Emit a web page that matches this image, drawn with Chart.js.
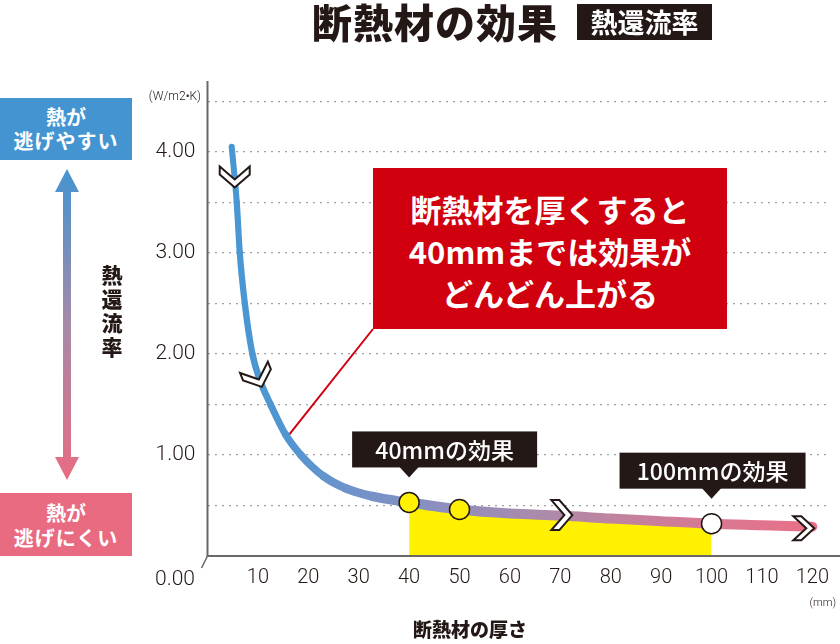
<!DOCTYPE html>
<html><head><meta charset="utf-8">
<script src="https://cdn.jsdelivr.net/npm/chart.js@4.4.1/dist/chart.umd.min.js"></script>
<style>
html,body{margin:0;padding:0;background:#fff;}
#wrap{position:relative;width:840px;height:644px;overflow:hidden;font-family:'Noto Sans CJK JP',sans-serif;color:#231815;}
canvas{position:absolute;left:0;top:0;}
.t{position:absolute;white-space:nowrap;text-align:center;}
</style></head><body>
<div id="wrap">
<canvas id="c" width="840" height="644"></canvas>
<div class="t" style="left:300px;top:1px;width:270px;height:40px;line-height:40px;font-size:40px;font-weight:900;letter-spacing:1px;">断熱材の効果</div>
<div class="t" style="left:577px;top:4px;width:135px;height:36px;line-height:36px;font-size:27px;font-weight:700;background:#231815;color:#fff;">熱還流率</div>
<div class="t" style="left:0;top:98px;width:132px;height:62px;background:#4494d1;color:#fff;font-weight:700;font-size:20px;">
  <div style="position:absolute;left:0;width:132px;top:7px;height:24px;line-height:24px;">熱が</div>
  <div style="position:absolute;left:0;width:132px;top:31px;height:24px;line-height:24px;letter-spacing:1px;">逃げやすい</div>
</div>
<div class="t" style="left:99px;top:262px;width:26px;line-height:24px;font-size:21px;font-weight:900;">熱<br>還<br>流<br>率</div>
<div class="t" style="left:0;top:493px;width:132px;height:63px;background:#e96b82;color:#fff;font-weight:700;font-size:20px;">
  <div style="position:absolute;left:0;width:132px;top:8px;height:24px;line-height:24px;">熱が</div>
  <div style="position:absolute;left:0;width:132px;top:33px;height:24px;line-height:24px;letter-spacing:1px;">逃げにくい</div>
</div>
<div class="t" style="left:373px;top:168px;width:354px;height:161px;background:#d0000f;color:#fff;font-weight:700;font-size:31px;">
  <div style="position:absolute;left:0;width:354px;top:20px;height:42px;line-height:42px;">断熱材を厚くすると</div>
  <div style="position:absolute;left:0;width:354px;top:62px;height:42px;line-height:42px;">40mmまでは効果が</div>
  <div style="position:absolute;left:0;width:354px;top:104px;height:42px;line-height:42px;">どんどん上がる</div>
</div>
<div class="t" style="left:370px;top:616px;width:200px;height:26px;line-height:26px;font-size:19px;font-weight:900;">断熱材の厚さ</div>
</div>
<script>
// ---- data ----
const thicknessMM = [4.8, 5.8, 6.4, 7.4, 8.9, 10.4, 12.5, 15.5, 18.5, 23.0, 27.4, 32.7, 40, 50, 60, 70, 80, 90, 100, 110, 120];
const uValue      = [4.05, 3.50, 3.00, 2.50, 2.00, 1.74, 1.50, 1.20, 1.00, 0.79, 0.67, 0.59, 0.53, 0.46, 0.42, 0.40, 0.37, 0.345, 0.32, 0.305, 0.29];
const fillRangeMM = [40, 100];
const markerMM    = [40, 50, 100];
const markerU     = [0.53, 0.46, 0.32];
const markerFill  = ['#fff100', '#fff100', '#ffffff'];
const chevronMM   = [5.4, 10.0, 70.3, 118.3];
const chevronU    = [3.75, 1.77, 0.405, 0.275];
const chevronDir  = [90, 68, 0, 0];
const calloutMM   = [40, 100];
const calloutText = ['40mmの効果', '100mmの効果'];
const redTarget   = [16.2, 1.2];
const xTickValues = [10, 20, 30, 40, 50, 60, 70, 80, 90, 100, 110, 120];
const yGridValues = [0, 0.5, 1, 1.5, 2, 2.5, 3, 3.5, 4, 4.5];
const yLabelValues = [1, 2, 3, 4];
const yUnit = '(W/m2•K)';
const xUnit = '(mm)';
const originLabel = '0.00';

const INK = '#231815';
let gradCache = null;
function lineGradient(chart) {
  const xs = chart.scales.x;
  if (gradCache && gradCache.w === chart.width) return gradCache.g;
  const g = chart.ctx.createLinearGradient(xs.getPixelForValue(4), 0, xs.getPixelForValue(120), 0);
  g.addColorStop(0, '#4797d3');
  g.addColorStop(0.1, '#5196d1');
  g.addColorStop(0.2, '#6c93cb');
  g.addColorStop(0.32, '#8590c3');
  g.addColorStop(0.55, '#ae8aa9');
  g.addColorStop(0.8, '#d57a94');
  g.addColorStop(1, '#ea6f88');
  gradCache = {w: chart.width, g};
  return g;
}

function chevron(ctx, x, y, ang, w, d, t) {
  ctx.save();
  ctx.translate(x, y);
  ctx.rotate(ang * Math.PI / 180);
  ctx.beginPath();
  ctx.moveTo(-d / 2, -w / 2);
  ctx.lineTo(-d / 2 + t, -w / 2);
  ctx.lineTo(d / 2, 0);
  ctx.lineTo(-d / 2 + t, w / 2);
  ctx.lineTo(-d / 2, w / 2);
  ctx.lineTo(d / 2 - t, 0);
  ctx.closePath();
  ctx.fillStyle = '#fff';
  ctx.fill();
  ctx.lineJoin = 'miter';
  ctx.lineWidth = 2;
  ctx.strokeStyle = INK;
  ctx.stroke();
  ctx.restore();
}

const deco = {
  id: 'deco',
  beforeDatasetsDraw(chart) {
    const ctx = chart.ctx, xs = chart.scales.x, ys = chart.scales.y;
    ctx.save();
    ctx.strokeStyle = '#d0000f';
    ctx.lineWidth = 2;
    ctx.beginPath();
    ctx.moveTo(373, 329);
    ctx.lineTo(xs.getPixelForValue(redTarget[0]), ys.getPixelForValue(redTarget[1]));
    ctx.stroke();
    ctx.restore();
  },
  afterDatasetsDraw(chart) {
    const ctx = chart.ctx, xs = chart.scales.x, ys = chart.scales.y, ca = chart.chartArea;
    ctx.save();
    // axes
    ctx.strokeStyle = '#6b6767';
    ctx.lineWidth = 2;
    ctx.beginPath();
    ctx.moveTo(ca.left, ca.top);
    ctx.lineTo(ca.left, ca.bottom);
    ctx.lineTo(840, ca.bottom);
    ctx.stroke();
    ctx.lineWidth = 1.5;
    ctx.beginPath();
    ctx.moveTo(ca.left - 6, ca.bottom + 12);
    ctx.lineTo(ca.left, ca.bottom);
    ctx.stroke();
    // origin label + units
    ctx.fillStyle = INK;
    ctx.font = '300 21px Roboto';
    ctx.textAlign = 'right';
    ctx.textBaseline = 'middle';
    ctx.fillText(originLabel, 195, 580);
    ctx.font = '300 12px Roboto';
    ctx.fillText(yUnit, 201, 97);
    ctx.font = '300 11px Roboto';
    ctx.fillText(xUnit, 836, 603);
    // chevrons
    chevronMM.forEach((m, i) => {
      const big = i === 3 ? 24 : 30;
      chevron(ctx, xs.getPixelForValue(m), ys.getPixelForValue(chevronU[i]), chevronDir[i], big, 21, 8);
    });
    // callouts
    calloutMM.forEach((m, i) => {
      const idx = markerMM.indexOf(m);
      const ax = xs.getPixelForValue(m);
      const ay = ys.getPixelForValue(markerU[idx]) - 25;
      const left = i === 0 ? ax - 57 : ax - 92;
      const right = i === 0 ? ax + 128 : ax + 94;
      const top = ay - 46, bottom = ay - 10;
      ctx.fillStyle = INK;
      ctx.fillRect(left, top, right - left, bottom - top);
      ctx.beginPath();
      ctx.moveTo(ax - 10, bottom - 1);
      ctx.lineTo(ax + 10, bottom - 1);
      ctx.lineTo(ax, ay);
      ctx.closePath();
      ctx.fill();
      ctx.fillStyle = '#fff';
      ctx.font = "500 23px 'Noto Sans CJK JP'";
      ctx.textAlign = 'center';
      ctx.textBaseline = 'middle';
      ctx.fillText(calloutText[i], (left + right) / 2, (top + bottom) / 2 + 1);
    });
    // left arrow
    const ax = 67, yTop = 169, yBot = 480;
    const g = ctx.createLinearGradient(0, yTop, 0, yBot);
    g.addColorStop(0, '#4494d1');
    g.addColorStop(0.5, '#a58aa8');
    g.addColorStop(1, '#e96b82');
    ctx.fillStyle = g;
    ctx.beginPath();
    ctx.moveTo(ax, yTop);
    ctx.lineTo(ax + 12, yTop + 23);
    ctx.lineTo(ax + 4, yTop + 23);
    ctx.lineTo(ax + 4, yBot - 23);
    ctx.lineTo(ax + 12, yBot - 23);
    ctx.lineTo(ax, yBot);
    ctx.lineTo(ax - 12, yBot - 23);
    ctx.lineTo(ax - 4, yBot - 23);
    ctx.lineTo(ax - 4, yTop + 23);
    ctx.lineTo(ax - 12, yTop + 23);
    ctx.closePath();
    ctx.fill();
    ctx.restore();
  }
};

const curveData = thicknessMM.map((x, i) => ({x, y: uValue[i]}));
const fillData = curveData.filter(p => p.x >= fillRangeMM[0] && p.x <= fillRangeMM[1]);
const markerData = markerMM.map((x, i) => ({x, y: markerU[i]}));

new Chart(document.getElementById('c'), {
  type: 'line',
  data: {
    datasets: [
      {
        label: '熱還流率',
        data: curveData,
        borderColor: (c) => c.chart.chartArea ? lineGradient(c.chart) : '#4797d3',
        borderWidth: 8,
        borderCapStyle: 'round',
        borderJoinStyle: 'round',
        segment: {
          borderWidth: (c) => Math.min(10, 5.5 + c.p0.parsed.x * 0.12)
        },
        pointRadius: 0,
        cubicInterpolationMode: 'monotone',
        fill: false,
        order: 2
      },
      {
        label: 'fill',
        data: fillData,
        borderWidth: 0,
        borderColor: 'rgba(0,0,0,0)',
        backgroundColor: '#fff100',
        pointRadius: 0,
        cubicInterpolationMode: 'monotone',
        fill: 'origin',
        order: 3
      },
      {
        label: 'markers',
        data: markerData,
        showLine: false,
        pointRadius: 10,
        pointHoverRadius: 10,
        pointBackgroundColor: markerFill,
        pointBorderColor: INK,
        pointBorderWidth: 1.5,
        order: 1
      }
    ]
  },
  options: {
    responsive: false,
    animation: false,
    layout: {padding: {left: 0, top: 81, right: 10, bottom: 0}},
    plugins: {legend: {display: false}, tooltip: {enabled: false}},
    scales: {
      x: {
        type: 'linear',
        min: 0,
        max: 123.2,
        afterBuildTicks: (s) => { s.ticks = xTickValues.map(v => ({value: v})); },
        afterFit: (s) => { s.height = 88; },
        grid: {display: false, drawTicks: false},
        border: {display: false},
        ticks: {
          autoSkip: false, maxRotation: 0, padding: 10,
          color: INK,
          font: {family: 'Roboto', size: 20, weight: '300'},
          callback: (v) => String(v)
        }
      },
      y: {
        type: 'linear',
        min: 0,
        max: 4.7,
        afterBuildTicks: (s) => { s.ticks = yGridValues.map(v => ({value: v})); },
        afterFit: (s) => { s.width = 207.5; },
        grid: {color: '#a0a0a0', lineWidth: 1.3, drawTicks: false},
        border: {display: false, dash: [2, 5]},
        ticks: {
          autoSkip: false, padding: 12,
          color: INK,
          font: {family: 'Roboto', size: 21, weight: '300'},
          callback: (v) => yLabelValues.includes(v) ? v.toFixed(2) : ''
        }
      }
    }
  },
  plugins: [deco]
});
</script>
</body></html>
